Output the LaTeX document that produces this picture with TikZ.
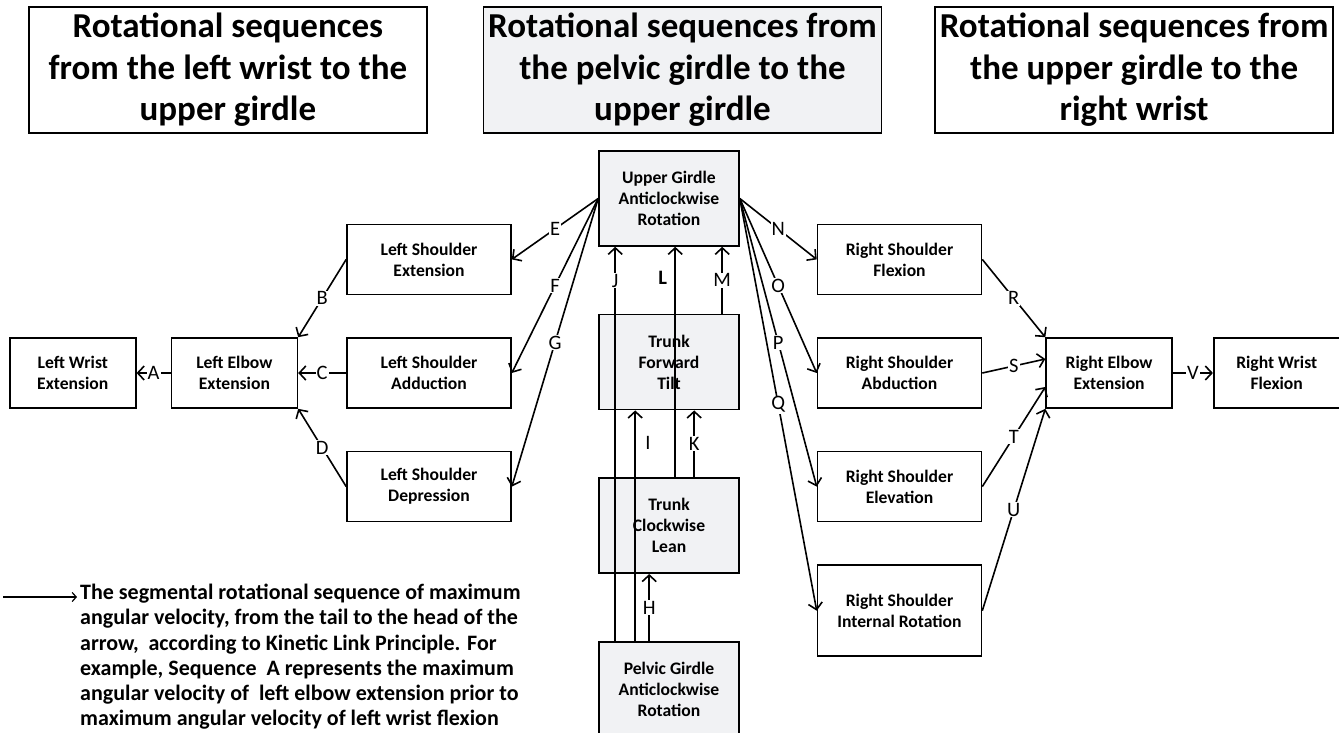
\documentclass[tikz,border=0pt]{standalone}
\usepackage{fontspec}
\setmainfont{Carlito}
\usetikzlibrary{positioning, arrows.meta}
\definecolor{boxgray}{RGB}{241,242,244}

\begin{document}
\begin{tikzpicture}[x=1pt, y=-1pt,
    headbox/.style={draw, line width=1.6pt, minimum width=398pt, minimum height=126pt, align=center, inner sep=0pt, font=\fontsize{35}{41.5}\selectfont\bfseries},
    smallbox/.style={draw, line width=1.6pt, minimum width=126pt, minimum height=70pt, align=center, inner sep=0pt, font=\fontsize{17.6}{21}\selectfont\bfseries},
    shbox/.style={smallbox, minimum width=164pt},
    trunkbox/.style={smallbox, fill=boxgray, minimum width=140pt, minimum height=95pt},
    arrowstyle/.style={line width=1.6pt, -{Straight Barb[length=6.5pt, width=14pt]}},
    legarrow/.style={line width=1.2pt, -{Straight Barb[length=4pt, width=9pt]}},
    lbl/.style={fill=white, inner sep=1pt, font=\fontsize{20.5}{20.5}\selectfont}
]
\useasboundingbox (0,0) rectangle (1339,733);

% Headers
\node[headbox, fill=boxgray] (hmid) at (682.5,70) {Rotational sequences from\\the pelvic girdle to the\\upper girdle};
\node[headbox, left=55pt of hmid] (hleft) {Rotational sequences\\from the left wrist to the\\upper girdle};
\node[headbox, right=52pt of hmid] (hright) {Rotational sequences from\\the upper girdle to the\\right wrist};

% Pelvis to upper girdle
\node[trunkbox] (ugirdle) at (669,198.5) {Upper Girdle\\Anticlockwise\\Rotation};
\node[trunkbox, below=67pt of ugirdle] (tilt) {Trunk\\Forward\\Tilt};
\node[trunkbox, below=67pt of tilt] (lean) {Trunk\\Clockwise\\Lean};
\node[trunkbox, below=67pt of lean] (pelvis) {Pelvic Girdle\\Anticlockwise\\Rotation};

% Left arm
\node[shbox] (lsadd) at (429,373) {Left Shoulder\\Adduction};
\node[shbox, above=42pt of lsadd] (lsext) {Left Shoulder\\Extension};
\node[shbox, below=42pt of lsadd] (lsdep) {Left Shoulder\\Depression};
\node[smallbox, left=48pt of lsadd] (lelbow) {Left Elbow\\Extension};
\node[smallbox, left=34pt of lelbow] (lwrist) {Left Wrist\\Extension};

% Right arm
\node[shbox] (rsabd) at (899.5,373) {Right Shoulder\\Abduction};
\node[shbox, above=42pt of rsabd] (rsflex) {Right Shoulder\\Flexion};
\node[shbox, below=42pt of rsabd] (rselev) {Right Shoulder\\Elevation};
\node[shbox, below=42pt of rselev, minimum height=91pt] (rsint) {Right Shoulder\\Internal Rotation};
\node[smallbox, right=63pt of rsabd] (relbow) {Right Elbow\\Extension};
\node[smallbox, right=40pt of relbow] (rwrist) {Right Wrist\\Flexion};

% Left sequences
\draw[arrowstyle] (lelbow) -- node[lbl] {A} (lwrist);
\draw[arrowstyle] (lsext.west) -- node[lbl] {B} (lelbow.north east);
\draw[arrowstyle] (lsadd.west) -- node[lbl] {C} (lelbow.east);
\draw[arrowstyle] (lsdep.west) -- node[lbl] {D} (lelbow.south east);
\draw[arrowstyle] (ugirdle.west) -- node[lbl] {E} (lsext.east);
\draw[arrowstyle] (ugirdle.west) -- node[lbl] {F} (lsadd.east);
\draw[arrowstyle] (ugirdle.west) -- node[lbl] {G} (lsdep.east);

% Central sequences
\draw[arrowstyle] ([xshift=51pt]pelvis.north west) -- node[lbl] {H} ([xshift=51pt]lean.south west);
\draw[arrowstyle] ([xshift=37pt]pelvis.north west) -- node[pos=0.86, right=6pt, font=\fontsize{20.5}{20.5}\selectfont] {I} ([xshift=37pt]tilt.south west);
\draw[arrowstyle] ([xshift=17pt]pelvis.north west) -- node[lbl, pos=0.914] {J} ([xshift=17pt]ugirdle.south west);
\draw[arrowstyle] ([xshift=96pt]lean.north west) -- node[lbl] {K} ([xshift=96pt]tilt.south west);
\draw[arrowstyle] ([xshift=77pt]lean.north west) -- node[pos=0.865, left=4pt, font=\fontsize{20.5}{20.5}\selectfont\bfseries] {L} ([xshift=77pt]ugirdle.south west);
\draw[arrowstyle] ([xshift=124pt]tilt.north west) -- node[lbl] {M} ([xshift=124pt]ugirdle.south west);

% Right sequences
\draw[arrowstyle] (ugirdle.east) -- node[lbl] {N} (rsflex.west);
\draw[arrowstyle] (ugirdle.east) -- node[lbl] {O} (rsabd.west);
\draw[arrowstyle] (ugirdle.east) -- node[lbl] {P} (rselev.west);
\draw[arrowstyle] (ugirdle.east) -- node[lbl] {Q} (rsint.west);
\draw[arrowstyle] (rsflex.east) -- node[lbl] {R} (relbow.north west);
\draw[arrowstyle] (rsabd.east) -- node[lbl] {S} ([yshift=14pt]relbow.west);
\draw[arrowstyle] (rselev.east) -- node[lbl] {T} ([yshift=-14pt]relbow.west);
\draw[arrowstyle] (rsint.east) -- node[lbl] {U} (relbow.south west);
\draw[arrowstyle] (relbow) -- node[lbl] {V} (rwrist);

% Legend
\coordinate (legtail) at (3,597);
\node[anchor=north west, align=left, inner sep=0pt, font=\fontsize{22}{25.2}\selectfont\bfseries] (legend) at (80,584)
  {The segmental rotational sequence of maximum\\
   angular velocity, from the tail to the head of the\\
   arrow,\ \ according to Kinetic Link Principle. For\\
   example, Sequence\ \ A represents the maximum\\
   angular velocity of\ \ left elbow extension prior to\\
   maximum angular velocity of left wrist flexion};
\draw[legarrow] (legtail) -- ([xshift=-3pt]legend.west |- legtail);

\end{tikzpicture}
\end{document}
